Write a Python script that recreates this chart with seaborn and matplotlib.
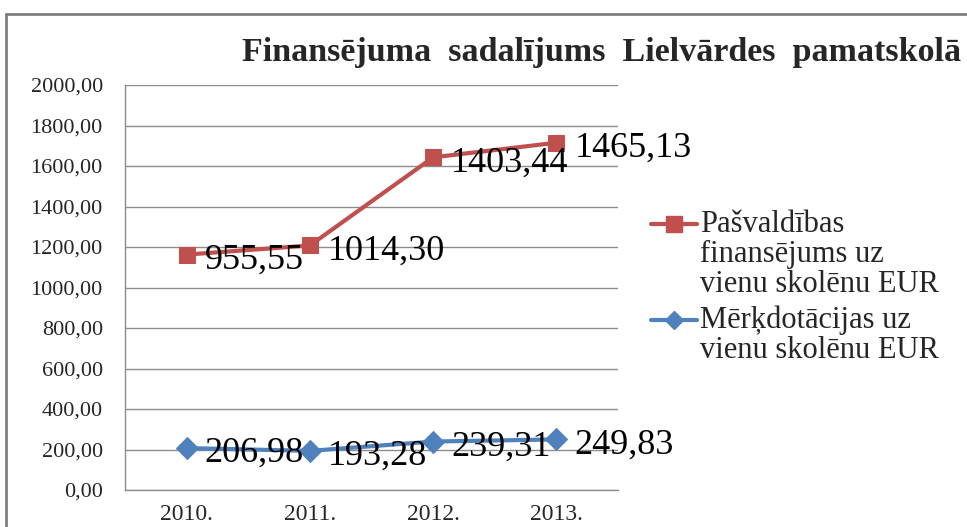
import matplotlib
matplotlib.use("Agg")
import matplotlib.pyplot as plt
import seaborn as sns
import pandas as pd
import numpy as np
from matplotlib.lines import Line2D

years = ["2010.", "2011.", "2012.", "2013."]
merkdotacijas = [206.98, 193.28, 239.31, 249.83]
pasvaldibas = [955.55, 1014.30, 1403.44, 1465.13]
label_red = ["Pašvaldības", "finansējums uz", "vienu skolēnu EUR"]
label_blue = ["Mērķdotācijas uz", "vienu skolēnu EUR"]
title = "Finansējuma  sadalījums  Lielvārdes  pamatskolā"
yticks = [0, 200, 400, 600, 800, 1000, 1200, 1400, 1600, 1800, 2000]

RED = "#C0504D"
BLUE = "#4F81BD"
GRID = "#8C8C8C"

sns.set_style("white")
plt.rcParams["font.family"] = ["Liberation Serif", "DejaVu Serif"]

# stacked line chart: red series is stacked on top of blue
stacked_red = [b + r for b, r in zip(merkdotacijas, pasvaldibas)]
df = pd.DataFrame({
    "year": years * 2,
    "pos": list(range(len(years))) * 2,
    "value": merkdotacijas + stacked_red,
    "label": merkdotacijas + pasvaldibas,
    "series": ["blue"] * 4 + ["red"] * 4,
})

fig = plt.figure(figsize=(9.67, 5.27), dpi=100)
W, H = 967, 527
ax = fig.add_axes([125 / W, 1 - 490 / H, (618 - 125) / W, (490 - 85) / H])

sns.lineplot(data=df[df.series == "blue"], x="pos", y="value", ax=ax,
             color=BLUE, lw=3, marker="D", markersize=11,
             markeredgecolor=BLUE, legend=False)
sns.lineplot(data=df[df.series == "red"], x="pos", y="value", ax=ax,
             color=RED, lw=3, marker="s", markersize=12,
             markeredgecolor=RED, legend=False)

for _, row in df.iterrows():
    ax.annotate(f"{row['label']:.2f}".replace(".", ","),
                (row["pos"], row["value"]), xytext=(13, -4),
                textcoords="offset points", ha="left", va="center",
                fontsize=26, color="black", zorder=5)

ax.set_xlim(-0.5, 3.5)
ax.set_ylim(0, 2000)
ax.set_yticks(yticks)
ax.set_yticklabels([f"{v:.2f}".replace(".", ",") for v in yticks], fontsize=16)
ax.set_xticks(range(len(years)))
ax.set_xticklabels(years, fontsize=17)
ax.tick_params(axis="y", length=0, pad=16)
ax.tick_params(axis="x", length=0, pad=10)
ax.set_xlabel("")
ax.set_ylabel("")
ax.yaxis.grid(True, color=GRID, lw=1)
ax.set_axisbelow(True)
for s in ["top", "right"]:
    ax.spines[s].set_visible(False)
for s in ["left", "bottom"]:
    ax.spines[s].set_color(GRID)
    ax.spines[s].set_linewidth(1)

# legend: handle aligned with the first text line of each entry
def legend_entry(y0, color, marker, msize, lines):
    fig.add_artist(Line2D([651 / W, 697 / W], [1 - y0 / H, 1 - y0 / H],
                          color=color, lw=3, transform=fig.transFigure))
    fig.add_artist(Line2D([674 / W], [1 - y0 / H], color=color, marker=marker,
                          markersize=msize, transform=fig.transFigure))
    for i, line in enumerate(lines):
        fig.text(700 / W, 1 - (y0 + 30 * i) / H, line, fontsize=22,
                 ha="left", va="center")

legend_entry(224, RED, "s", 12, label_red)
legend_entry(320, BLUE, "D", 9, label_blue)

fig.text(242 / W, 1 - 52 / H, title, fontsize=24.5, fontweight="bold",
         ha="left", va="center")

# outer chart-area border (partially cut off in the reference)
fig.add_artist(Line2D([6 / W, 6 / W], [0, 1 - 14 / H], color="#7F7F7F",
                      lw=2, transform=fig.transFigure))
fig.add_artist(Line2D([6 / W, 1], [1 - 14 / H, 1 - 14 / H], color="#7F7F7F",
                      lw=2, transform=fig.transFigure))

fig.savefig("out.png", dpi=100)
